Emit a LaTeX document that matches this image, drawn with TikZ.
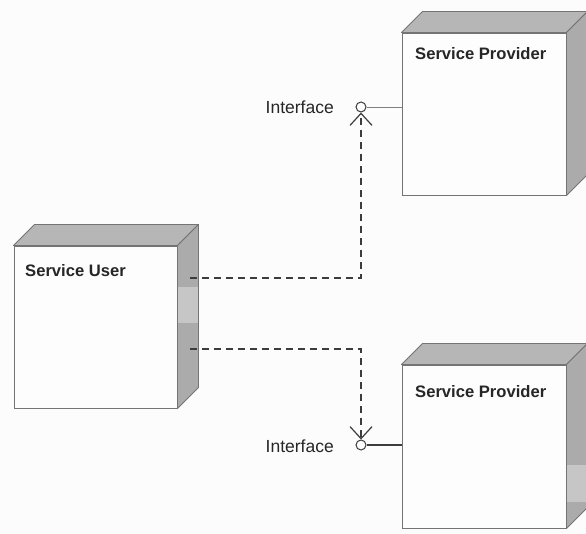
\documentclass[tikz,border=0pt]{standalone}
\usepackage{fontspec}
\setmainfont{Liberation Sans}
\usetikzlibrary{arrows.meta}
\definecolor{facefront}{HTML}{FDFDFD}
\definecolor{facetop}{HTML}{B6B6B6}
\definecolor{faceside}{HTML}{ABABAB}
\definecolor{sideband}{HTML}{C6C6C6}
\definecolor{edgegray}{HTML}{747474}
\definecolor{linedark}{HTML}{3C3C3C}
\tikzset{
  nodebox/.style={draw=edgegray, fill=facefront, line width=0.9pt, rectangle,
    minimum width=163pt, minimum height=162pt, inner sep=0pt},
  topface/.style={draw=edgegray, fill=facetop, line width=0.9pt, line join=round},
  sideface/.style={draw=edgegray, fill=faceside, line width=0.9pt, line join=round},
  boxtitle/.style={anchor=base west, inner sep=0pt, font=\bfseries\fontsize{16.6}{18}\selectfont, text=black!85},
  iflabel/.style={anchor=east, inner sep=0pt, font=\fontsize{17.5}{19}\selectfont, text=black!85},
  lollipop/.style={circle, draw=linedark, fill=facefront, line width=1pt, minimum size=10pt, inner sep=0pt},
  depend/.style={draw=linedark, line width=1.2pt, dash pattern=on 7pt off 5pt,
    -{Straight Barb[length=12pt,width=22pt,line width=1.2pt]}},
}
\newcommand{\boxfaces}[2]{%
  % top and right faces of a 3D node box, #1 = node name, #2 = depth
  \path[topface] (#1.north west) -- ++(#2,-#2) -- ($(#1.north east)+(#2,-#2)$) -- (#1.north east) -- cycle;
  \path[sideface] (#1.north east) -- ++(#2,-#2) -- ($(#1.south east)+(#2,-#2)$) -- (#1.south east) -- cycle;
}
\usetikzlibrary{calc}
\begin{document}
\begin{tikzpicture}[x=1pt, y=-1pt]
  \useasboundingbox[fill=white!98.8!black] (0,0) rectangle (586,534);

  % front faces
  \node[nodebox] (user) at (95.5,327) {};
  \node[nodebox, minimum width=164pt] (prov1) at (484,114) {};
  \node[nodebox, minimum width=164pt, minimum height=163pt] (prov2) at (484,446.5) {};

  \boxfaces{user}{21}
  \boxfaces{prov1}{21}
  \boxfaces{prov2}{21}

  % lighter bands on the side faces
  \fill[sideband] (177.5,287) rectangle (197.5,323);
  \fill[sideband] (566.5,465) rectangle (586.5,502);

  % titles
  \node[boxtitle] (tuser) at (25,277) {Service User};
  \node[boxtitle] (tprov1) at (415,60) {Service Provider};
  \node[boxtitle] (tprov2) at (415,397) {Service Provider};

  % provided interfaces
  \node[lollipop] (if1) at (361,107) {};
  \node[lollipop] (if2) at (361,445) {};
  \draw[draw=gray, line width=0.8pt] (if1.east) -- (if1.east -| prov1.west);
  \draw[draw=linedark, line width=1.1pt] (if2.east) -- (if2.east -| prov2.west);
  \node[iflabel] (lab1) at (334,107) {Interface};
  \node[iflabel] (lab2) at (334,446) {Interface};

  % usage dependencies
  \coordinate (dep1) at (190,278);
  \coordinate (dep2) at (190,349);
  \draw[depend] (dep1) -| (if1.south);
  \draw[depend] (dep2) -| (if2.north);
\end{tikzpicture}
\end{document}
